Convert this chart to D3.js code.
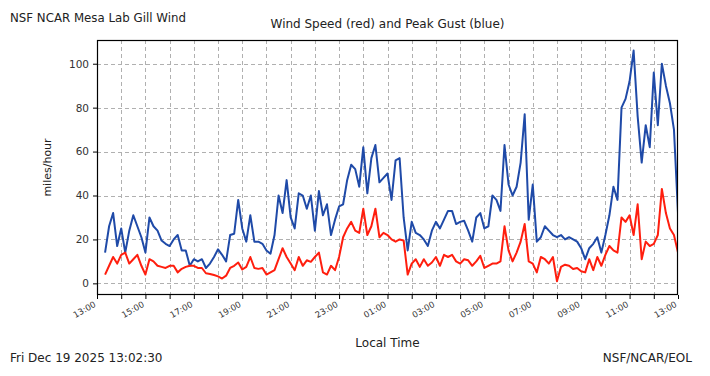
<!DOCTYPE html>
<html>
<head>
<meta charset="utf-8">
<script src="https://cdn.jsdelivr.net/npm/d3@7"></script>
<style>
  html, body { margin: 0; padding: 0; background: #fff; }
  svg { display: block; font-family: "DejaVu Sans", sans-serif; }
</style>
</head>
<body>
<svg id="chart" width="710" height="376"></svg>
<script>
// ---- data ----
const axisStart = new Date(2025, 11, 18, 13, 0);
const axisEnd = new Date(2025, 11, 19, 13, 0);
const firstSample = new Date(2025, 11, 18, 13, 20);
const sampleStepMinutes = 10;

const gustMph = [
  14, 26, 32, 17, 25, 14, 24, 31, 26, 21, 14, 30, 26, 24, 19.5, 18, 17, 20, 22, 15, 15, 8, 11,
  10, 11, 7, 9, 12, 15.5, 13, 10, 22, 22.6, 38, 25, 19, 31, 19, 19, 18, 15, 13.5, 22, 40, 32, 47,
  30, 25, 41, 40, 34, 40, 24, 42, 31, 36, 22, 29, 35, 36, 47, 54, 52, 44, 62, 41, 57, 63, 46, 48,
  50, 38, 56, 57, 30, 15, 28, 23, 22, 20, 17, 24, 28, 25, 29, 33, 33, 27, 28, 28.5, 24, 19, 30, 32,
  25, 26, 40, 38, 33, 63, 45, 40, 44, 55, 77, 29, 45, 19, 21, 26, 24, 22, 21, 22, 20, 21, 20,
  19, 16, 11, 16, 18, 21, 14, 22, 31, 44, 38, 80, 84, 92, 106, 76, 55, 72, 62, 96, 72, 100, 90, 82, 70, 32
];
const speedMph = [
  4, 8, 12, 9, 13, 14, 9, 11, 13, 8, 4, 11, 10, 8, 7.5, 7, 8, 8, 5, 6.6, 7.5, 8, 8,
  7, 7, 4.6, 4.3, 3.8, 3.2, 2.2, 3.5, 7, 8, 9.5, 6.3, 7.5, 12, 7, 6.6, 7, 4, 5, 6, 11, 16, 12,
  9, 6, 12, 8, 10.5, 9.8, 12, 14, 5, 4, 8, 6, 12, 21, 25, 28, 24, 23, 34, 22, 26, 34, 21, 23,
  22, 20, 19, 20, 19.5, 4, 9, 11, 7.5, 11, 8, 9.5, 12, 8, 13, 12, 13, 10, 9, 11, 10.5, 8, 10, 12.5,
  7, 8, 9, 9, 10, 26, 15, 10, 14, 19, 27, 10, 9, 5, 12, 11, 9, 12, 1, 7.5, 8.5, 8, 6.5,
  7, 5.5, 5, 11, 6, 12, 8, 13, 17, 15, 14, 30, 28, 31, 22, 36, 11, 19, 17, 18, 22, 43, 32, 25, 22, 14
];
const yTicks = [0, 20, 40, 60, 80, 100];
const titleText = "NSF NCAR Mesa Lab Gill Wind";
const subtitleText = "Wind Speed (red) and Peak Gust (blue)";
const xLabelText = "Local Time";
const yLabelText = "miles/hour";
const stampText = "Fri Dec 19 2025 13:02:30";
const creditText = "NSF/NCAR/EOL";

// ---- build sample times ----
const times = gustMph.map((_, i) => d3.timeMinute.offset(firstSample, i * sampleStepMinutes));
const rows = times.map((t, i) => ({ t, gust: gustMph[i], speed: speedMph[i] }));

// ---- layout ----
const svg = d3.select("#chart");
const L = 97, R = 678, T = 40, B = 295;

const x = d3.scaleTime().domain([axisStart, axisEnd]).range([L, R]);
const y = d3.scaleLinear().domain([-5.3, 110.8]).range([B, T]);

const hourTicks = d3.timeHour.every(1).range(axisStart, d3.timeMinute.offset(axisEnd, 1));
const labelTicks = hourTicks.filter(d => (d.getHours() - 13 + 24) % 2 === 0);

// grid
const grid = svg.append("g").attr("stroke", "#b0b0b0").attr("stroke-width", 1)
  .attr("stroke-dasharray", "4,3").attr("fill", "none");
grid.selectAll("line.v").data(hourTicks.slice(1, -1)).join("line")
  .attr("x1", d => Math.round(x(d)) + 0.5).attr("x2", d => Math.round(x(d)) + 0.5)
  .attr("y1", T).attr("y2", B);
grid.selectAll("line.h").data(yTicks).join("line")
  .attr("x1", L).attr("x2", R)
  .attr("y1", d => Math.round(y(d)) + 0.5).attr("y2", d => Math.round(y(d)) + 0.5);

// lines
const clip = svg.append("clipPath").attr("id", "plotclip").append("rect")
  .attr("x", L).attr("y", T).attr("width", R - L).attr("height", B - T);
const plot = svg.append("g").attr("clip-path", "url(#plotclip)");
plot.append("path").datum(rows)
  .attr("fill", "none").attr("stroke", "#1f4aa8").attr("stroke-width", 2)
  .attr("stroke-linejoin", "round")
  .attr("d", d3.line().x(d => x(d.t)).y(d => y(d.gust)));
plot.append("path").datum(rows)
  .attr("fill", "none").attr("stroke", "#ff1e0e").attr("stroke-width", 2)
  .attr("stroke-linejoin", "round")
  .attr("d", d3.line().x(d => x(d.t)).y(d => y(d.speed)));

// frame
svg.append("rect").attr("x", L + 0.5).attr("y", T + 0.5)
  .attr("width", R - L - 1).attr("height", B - T - 1)
  .attr("fill", "none").attr("stroke", "#000").attr("stroke-width", 1.2);

// y axis
const yAxis = d3.axisLeft(y).tickValues(yTicks).tickSize(4).tickPadding(4);
const gy = svg.append("g").attr("transform", `translate(${L},0)`).call(yAxis);
gy.select(".domain").remove();
gy.selectAll("text").attr("font-size", 10.5).attr("fill", "#333")
  .attr("font-family", "DejaVu Sans, sans-serif");
gy.selectAll("line").attr("stroke", "#000");

// x axis
const xAxis = d3.axisBottom(x).tickValues(hourTicks).tickSize(4)
  .tickFormat(d => labelTicks.some(l => +l === +d) ? d3.timeFormat("%H:%M")(d) : "");
const gx = svg.append("g").attr("transform", `translate(0,${B})`).call(xAxis);
gx.select(".domain").remove();
gx.selectAll("line").attr("stroke", "#000");
gx.selectAll("text")
  .attr("font-size", 8.5).attr("fill", "#333").attr("font-family", "DejaVu Sans, sans-serif")
  .attr("text-anchor", "end").attr("dy", null).attr("y", 0)
  .attr("transform", "translate(-1,11) rotate(-30)");

// texts
svg.append("text").attr("x", 10).attr("y", 22).attr("font-size", 11.8).attr("fill", "#222")
  .text(titleText);
svg.append("text").attr("x", (L + R) / 2).attr("y", 28).attr("font-size", 12).attr("fill", "#222")
  .attr("text-anchor", "middle").text(subtitleText);
svg.append("text").attr("x", (L + R) / 2).attr("y", 347).attr("font-size", 12).attr("fill", "#222")
  .attr("text-anchor", "middle").text(xLabelText);
svg.append("text").attr("transform", `translate(51,${(T + B) / 2}) rotate(-90)`)
  .attr("font-size", 11).attr("fill", "#222").attr("text-anchor", "middle").text(yLabelText);
svg.append("text").attr("x", 10).attr("y", 362).attr("font-size", 12).attr("fill", "#222")
  .text(stampText);
svg.append("text").attr("x", 692).attr("y", 362).attr("font-size", 12).attr("fill", "#222")
  .attr("text-anchor", "end").text(creditText);
</script>
</body>
</html>
